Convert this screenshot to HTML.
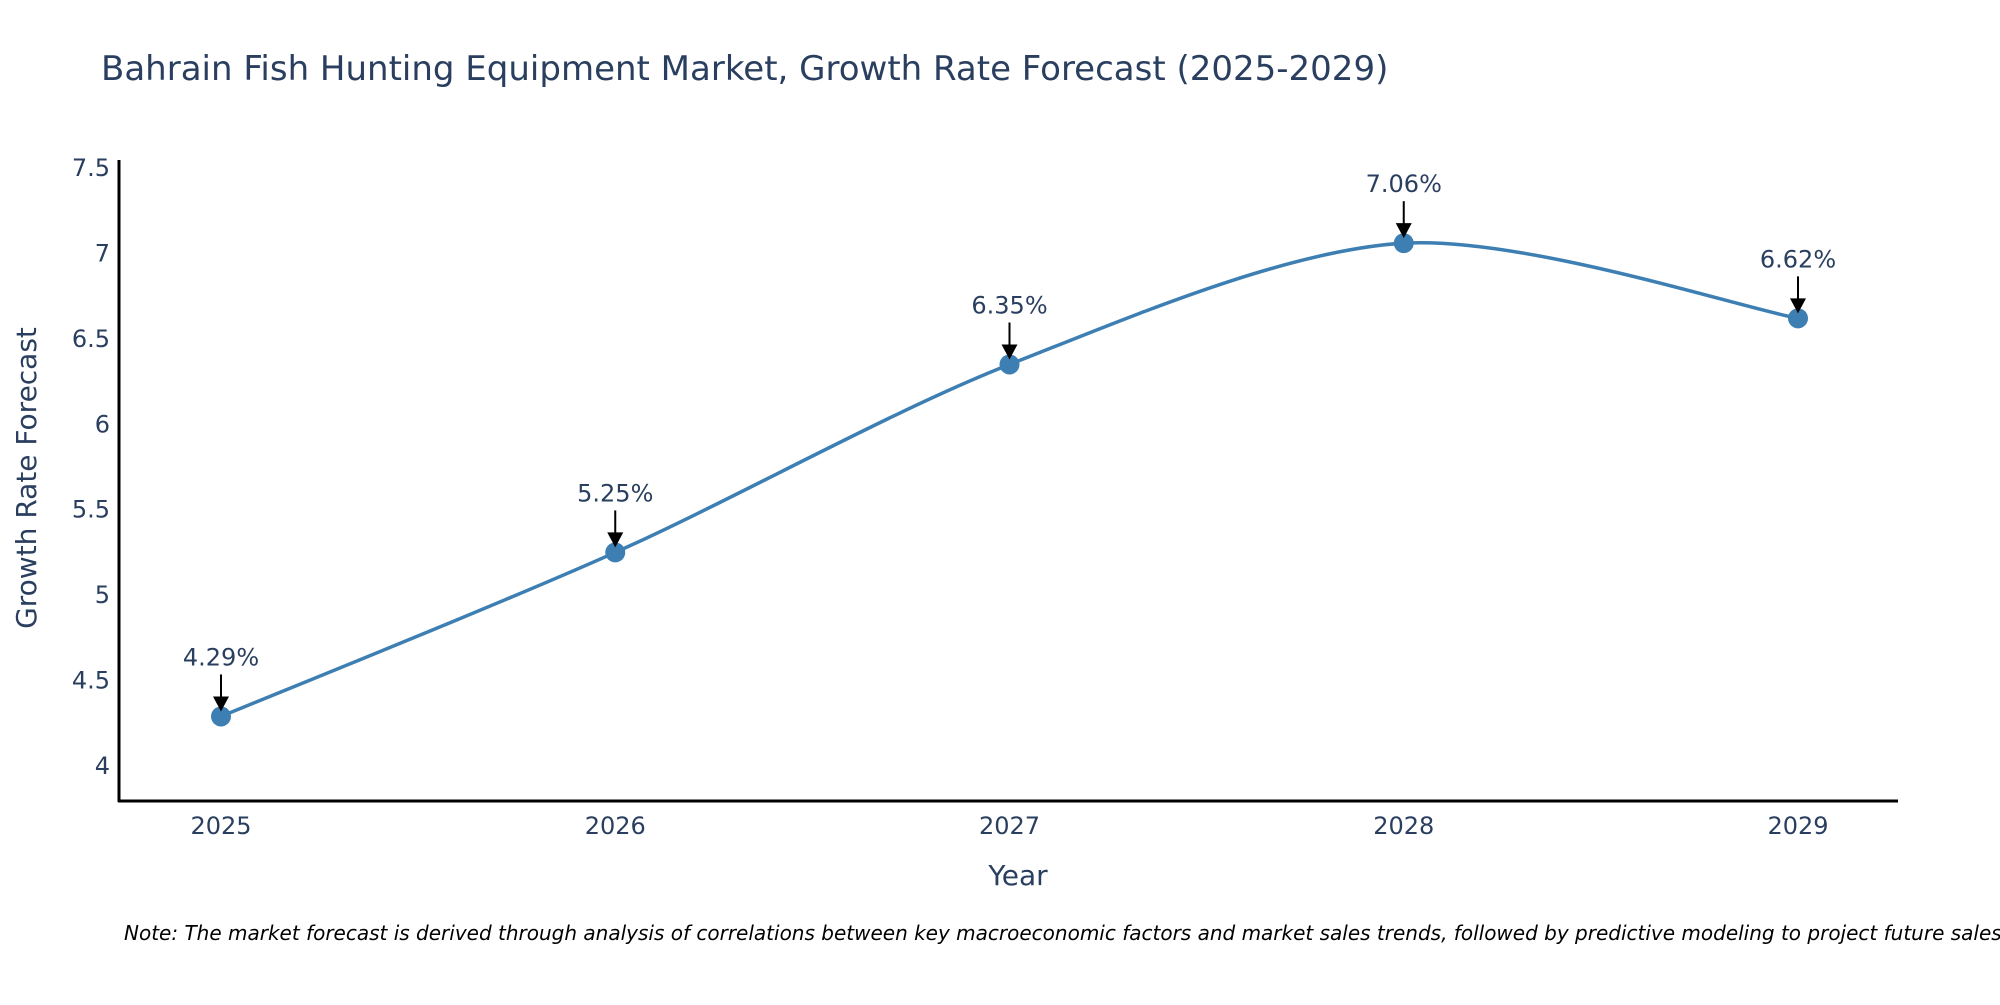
<!DOCTYPE html>
<html><head><meta charset="utf-8"><style>
html,body{margin:0;padding:0;background:#fff;overflow:hidden;}
svg text{font-family:"DejaVu Sans","Liberation Sans",sans-serif;}
</style></head><body>
<svg id="chart" width="2000" height="1000">
<text x="101" y="80" font-size="34" fill="#2a3f5f">Bahrain Fish Hunting Equipment Market, Growth Rate Forecast (2025-2029)</text>
<g id="plot"></g>
<line x1="119" y1="160" x2="119" y2="802" stroke="#000" stroke-width="3"/>
<line x1="118" y1="801" x2="1898" y2="801" stroke="#000" stroke-width="3"/>
<text x="1018" y="885" font-size="28" fill="#2a3f5f" text-anchor="middle">Year</text>
<text transform="translate(36,478) rotate(-90)" font-size="28" fill="#2a3f5f" text-anchor="middle">Growth Rate Forecast</text>
<text x="124" y="940" font-size="20" font-style="italic" fill="#000">Note: The market forecast is derived through analysis of correlations between key macroeconomic factors and market sales trends, followed by predictive modeling to project future sales.</text>
</svg>
<script>
const years=["2025","2026","2027","2028","2029"];
const values=[4.29,5.25,6.35,7.06,6.62];
const labels=["4.29%","5.25%","6.35%","7.06%","6.62%"];
const yTicks=[4,4.5,5,5.5,6,6.5,7,7.5];
const yTickLabels=["4","4.5","5","5.5","6","6.5","7","7.5"];
const NS="http://www.w3.org/2000/svg";
const g=document.getElementById('plot');
const xPos=i=>221+i*(1798-221)/(years.length-1);
const yPos=v=>766-(v-4)*(766-168)/3.5;
function mk(t,a){const e=document.createElementNS(NS,t);for(const k in a)e.setAttribute(k,a[k]);g.appendChild(e);return e;}
yTicks.forEach((t,i)=>{const e=mk('text',{x:110,y:yPos(t)+8,'font-size':24,fill:'#2a3f5f','text-anchor':'end'});e.textContent=yTickLabels[i];

});
years.forEach((y,i)=>{const e=mk('text',{x:xPos(i),y:834,'font-size':24,fill:'#2a3f5f','text-anchor':'middle'});e.textContent=y;

});
const P=values.map((v,i)=>[xPos(i),yPos(v)]);
let d=`M${P[0][0]},${P[0][1]}`;const s=0.3;
for(let i=0;i<P.length-1;i++){const p0=P[Math.max(0,i-1)],p1=P[i],p2=P[i+1],p3=P[Math.min(P.length-1,i+2)];
const c1=[p1[0]+(p2[0]-p0[0])*s/2,p1[1]+(p2[1]-p0[1])*s/2];const c2=[p2[0]-(p3[0]-p1[0])*s/2,p2[1]-(p3[1]-p1[1])*s/2];
d+=` C${c1[0]},${c1[1]} ${c2[0]},${c2[1]} ${p2[0]},${p2[1]}`;}
const ln=mk('path',{d:d,fill:'none',stroke:'#3d7fb3','stroke-width':3.5});


P.forEach((p,i)=>{const c=mk('circle',{cx:p[0],cy:p[1],r:10,fill:'#3d7fb3'});


const a=mk('line',{x1:p[0],y1:p[1]-42,x2:p[0],y2:p[1]-18,stroke:'#000','stroke-width':2});


const h=mk('polygon',{points:`${p[0]-8},${p[1]-20} ${p[0]+8},${p[1]-20} ${p[0]},${p[1]-5}`,fill:'#000'});


const t=mk('text',{x:p[0],y:p[1]-51,'font-size':24,fill:'#2a3f5f','text-anchor':'middle'});t.textContent=labels[i];

});
</script>
</body></html>
